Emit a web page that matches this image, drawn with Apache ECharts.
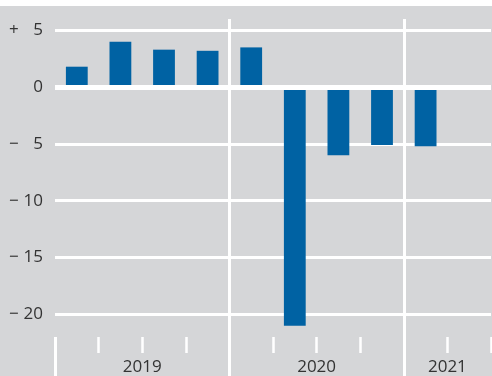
<!DOCTYPE html>
<html>
<head>
<meta charset="utf-8">
<script src="https://cdn.jsdelivr.net/npm/echarts@6/dist/echarts.min.js"></script>
<style>
  html, body { margin: 0; padding: 0; background: #ffffff; }
  #chart { position: absolute; left: 0; top: 6px; width: 492px; height: 370px; background: #d5d6d8; }
</style>
</head>
<body>
<div id="chart"></div>
<script>
// Quarterly change, per cent (2019 Q1 – 2021 Q2)
const quarters = ['2019 Q1', '2019 Q2', '2019 Q3', '2019 Q4',
                  '2020 Q1', '2020 Q2', '2020 Q3', '2020 Q4',
                  '2021 Q1', '2021 Q2'];
const values = [1.8, 4.0, 3.3, 3.2, 3.5, -21.0, -6.0, -5.1, -5.2, null];
const yTicks = [5, 0, -5, -10, -15, -20];
const years = ['2019', '2020', '2021'];
const yearStarts = [0, 4, 8];      // quarter index where each year begins
const yearMids = [2, 6, 9];        // centre of each year's span

const chart = echarts.init(document.getElementById('chart'), null, { renderer: 'canvas' });

const font = '"Open Sans", "Noto Sans", sans-serif';
const textColor = '#333333';

function signLabel(v) {
  const sign = v > 0 ? '+' : (v < 0 ? '\u2212' : '');
  return '{s|' + sign + '}{n|' + Math.abs(v) + '}';
}

chart.setOption({
  animation: false,
  backgroundColor: '#d5d6d8',
  grid: { left: 55, right: 1, top: 13, bottom: 33 },
  xAxis: [
    {
      type: 'category',
      data: quarters,
      boundaryGap: true,
      position: 'bottom',
      axisLine: { show: false, onZero: false },
      axisTick: { show: true, interval: 0, length: 16, lineStyle: { color: '#ffffff', width: 2.5 } },
      axisLabel: { show: false },
      splitLine: { show: false }
    },
    {
      type: 'value',
      min: 0,
      max: quarters.length,
      position: 'bottom',
      axisLine: { show: false, onZero: false },
      axisTick: { show: true, customValues: yearStarts, length: 41, lineStyle: { color: '#ffffff', width: 3 } },
      axisLabel: {
        show: true,
        customValues: yearMids,
        margin: 22,
        fontFamily: font,
        fontSize: 17,
        color: textColor,
        formatter: function (v) { return years[yearMids.indexOf(v)]; }
      },
      splitLine: { show: true, showMinLine: false, showMaxLine: true, lineStyle: { color: '#ffffff', width: 3 } }
    }
  ],
  yAxis: {
    type: 'value',
    min: -22,
    max: 6,
    axisLine: { show: false },
    axisTick: { show: false, customValues: yTicks },
    axisLabel: {
      customValues: yTicks,
      margin: 12,
      formatter: signLabel,
      rich: {
        s: { width: 14, align: 'left', fontFamily: font, fontSize: 17, color: textColor },
        n: { width: 20, align: 'right', fontFamily: font, fontSize: 17, color: textColor }
      }
    },
    splitLine: { show: true, lineStyle: { color: '#ffffff', width: 3 } }
  },
  series: [
    {
      type: 'bar',
      xAxisIndex: 0,
      data: values,
      barWidth: '50%',
      itemStyle: { color: '#0062a3' },
      markLine: {
        silent: true,
        symbol: 'none',
        label: { show: false },
        lineStyle: { color: '#ffffff', width: 5, type: 'solid' },
        data: [{ yAxis: 0 }]
      }
    }
  ]
});
</script>
</body>
</html>
